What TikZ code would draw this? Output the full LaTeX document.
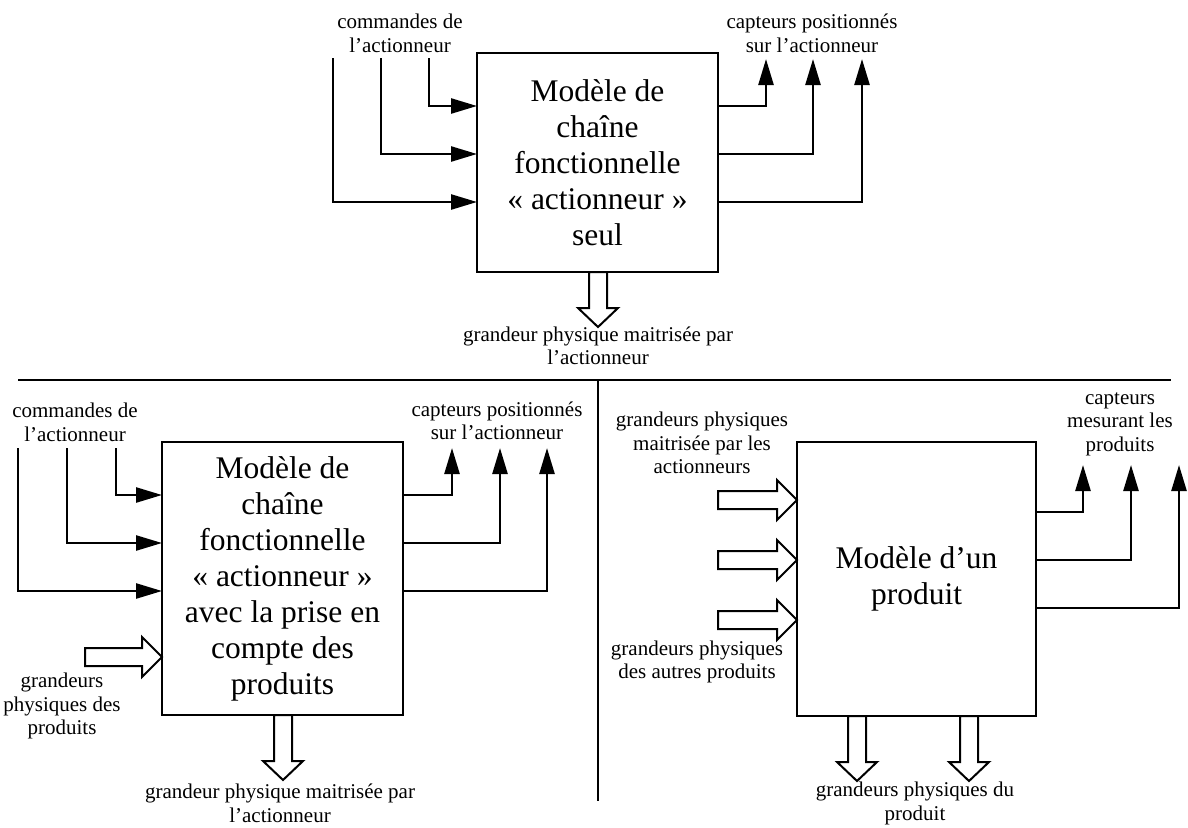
\documentclass[tikz,border=0pt]{standalone}
\usepackage{fontspec}
\setmainfont{Liberation Serif}
\usetikzlibrary{arrows.meta, positioning, calc}
\newcommand{\lblfont}{\fontsize{21}{23.5}\selectfont}
\newcommand{\boxfont}{\fontsize{31.5}{36}\selectfont}

\begin{document}
\begin{tikzpicture}[x=1pt, y=-1pt,
  modbox/.style={draw, line width=2pt, anchor=north west, outer sep=0pt,
    inner sep=0pt, align=center, font=\boxfont},
  lbl/.style={align=center, font=\lblfont, inner sep=0pt},
  arr/.style={-{Triangle[length=26pt, width=15pt]}, line width=2.5pt},
  fatright/.style={line width=2pt, to path={
    ($(\tikztostart)+(0,-9)$) -- ($(\tikztotarget)+(-20,-9)$)
    -- ($(\tikztotarget)+(-20,-20)$) -- (\tikztotarget)
    -- ($(\tikztotarget)+(-20,20)$) -- ($(\tikztotarget)+(-20,9)$)
    -- ($(\tikztostart)+(0,9)$) -- cycle}},
  fatdown/.style={line width=2pt, to path={
    ($(\tikztostart)+(-9,0)$) -- ($(\tikztotarget)+(-9,-19)$)
    -- ($(\tikztotarget)+(-20,-19)$) -- (\tikztotarget)
    -- ($(\tikztotarget)+(20,-19)$) -- ($(\tikztotarget)+(9,-19)$)
    -- ($(\tikztostart)+(9,0)$) -- cycle}}
]
\useasboundingbox (0,0) rectangle (1188,827);

% Top - actionneur seul
\node[modbox, minimum width=241pt, minimum height=219pt] (topbox) at (477,53)
  {Modèle de\\chaîne\\fonctionnelle\\« actionneur »\\seul};
\node[lbl] (cmdtop) at (400,33.5) {commandes de\\l’actionneur};
\node[lbl] (capttop) at (812,33.5) {capteurs positionnés\\sur l’actionneur};
\node[lbl] (grtop) at (598,346) {grandeur physique maitrisée par\\l’actionneur};

\coordinate (tc1) at (333,58);
\coordinate (tc2) at (381,58);
\coordinate (tc3) at (429,58);
\draw[arr] (tc1) |- ([yshift=-149pt]topbox.north west);
\draw[arr] (tc2) |- ([yshift=-101pt]topbox.north west);
\draw[arr] (tc3) |- ([yshift=-53pt]topbox.north west);

\coordinate (ts1) at (766,59);
\coordinate (ts2) at (813,59);
\coordinate (ts3) at (862,59);
\draw[arr] ([yshift=-53pt]topbox.north east) -| (ts1);
\draw[arr] ([yshift=-101pt]topbox.north east) -| (ts2);
\draw[arr] ([yshift=-149pt]topbox.north east) -| (ts3);

\coordinate (tg) at (598,327);
\draw[fatdown] (topbox.south -| tg) to (tg);

% Separators
\draw[line width=2.5pt] (18,380) -- (1171,380);
\draw[line width=2.5pt] (598,380) -- (598,801);

% Bottom left - actionneur avec produits
\node[modbox, minimum width=241pt, minimum height=273pt] (actbox) at (162,442)
  {Modèle de\\chaîne\\fonctionnelle\\« actionneur »\\avec la prise en\\compte des\\produits};
\node[lbl] (cmdbot) at (75,422.5) {commandes de\\l’actionneur};
\node[lbl] (captbot) at (497,421) {capteurs positionnés\\sur l’actionneur};
\node[lbl] (grprod) at (62,706) {grandeurs\\physiques des\\produits};
\node[lbl] (grbot) at (280,803.5) {grandeur physique maitrisée par\\l’actionneur};

\coordinate (bc1) at (18,448);
\coordinate (bc2) at (67,448);
\coordinate (bc3) at (116,448);
\draw[arr] (bc1) |- ([yshift=-149pt]actbox.north west);
\draw[arr] (bc2) |- ([yshift=-101pt]actbox.north west);
\draw[arr] (bc3) |- ([yshift=-53pt]actbox.north west);

\coordinate (bs1) at (452,448);
\coordinate (bs2) at (500,448);
\coordinate (bs3) at (547,448);
\draw[arr] ([yshift=-53pt]actbox.north east) -| (bs1);
\draw[arr] ([yshift=-101pt]actbox.north east) -| (bs2);
\draw[arr] ([yshift=-149pt]actbox.north east) -| (bs3);

\coordinate (bp) at (85,657);
\draw[fatright] (bp) to (bp -| actbox.west);
\coordinate (bg) at (283,780);
\draw[fatdown] (actbox.south -| bg) to (bg);

% Bottom right - produit
\node[modbox, minimum width=239pt, minimum height=274pt] (prodbox) at (797,442)
  {Modèle d’un\\produit};
\node[lbl] (gract) at (702,443) {grandeurs physiques\\maitrisée par les\\actionneurs};
\node[lbl] (grautres) at (697,662) {grandeurs physiques\\des autres produits};
\node[lbl] (captprod) at (1120,424) {capteurs\\mesurant les\\produits};
\node[lbl] (grdu) at (915,803.5) {grandeurs physiques du\\produit};

\coordinate (pa1) at (718,500);
\coordinate (pa2) at (718,560);
\coordinate (pa3) at (718,620);
\draw[fatright] (pa1) to (pa1 -| prodbox.west);
\draw[fatright] (pa2) to (pa2 -| prodbox.west);
\draw[fatright] (pa3) to (pa3 -| prodbox.west);

\coordinate (ps1) at (1083,465);
\coordinate (ps2) at (1131,465);
\coordinate (ps3) at (1179,465);
\draw[arr] ([yshift=-70pt]prodbox.north east) -| (ps1);
\draw[arr] ([yshift=-118pt]prodbox.north east) -| (ps2);
\draw[arr] ([yshift=-166pt]prodbox.north east) -| (ps3);

\coordinate (pg1) at (857,781);
\coordinate (pg2) at (969,781);
\draw[fatdown] (prodbox.south -| pg1) to (pg1);
\draw[fatdown] (prodbox.south -| pg2) to (pg2);
\end{tikzpicture}
\end{document}
